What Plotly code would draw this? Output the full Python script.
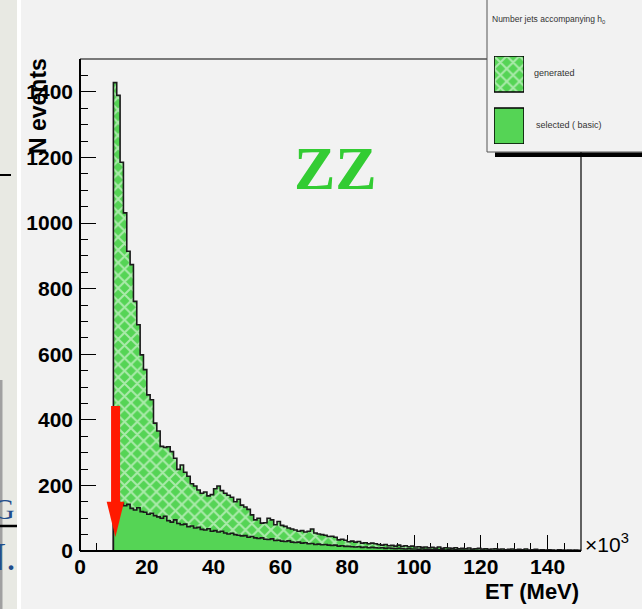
import plotly.graph_objects as go

# ---------------- data ----------------
bin_start = 10          # first bin lower edge (x10^3 MeV)
bin_width = 1
generated = [1428, 1389, 1185, 1031, 914, 873, 761, 690, 598, 553,
             476, 461, 390, 366, 319, 316, 318, 303, 283, 249,
             262, 240, 228, 205, 198, 186, 176, 180, 168, 172,
             190, 198, 184, 176, 170, 164, 150, 158, 140, 134,
             127, 110, 95, 100, 85, 86, 100, 95, 80, 90,
             78, 75, 70, 67, 64, 60, 62, 58, 60, 67,
             55, 52, 50, 48, 44, 45, 42, 34, 36, 33,
             28, 30, 27, 29, 24, 25, 22, 24, 22, 20,
             18, 20, 16, 17, 15, 18, 14, 16, 13, 15,
             12, 13, 11, 12, 10, 11, 9, 12, 8, 10,
             9, 8, 10, 7, 8, 7, 9, 6, 7, 8,
             6, 7, 5, 6, 7, 5, 6, 4, 5, 6,
             4, 5, 4, 6, 3, 4, 5, 3, 4, 3,
             4, 3, 2, 4, 3, 2, 3, 2, 3, 2]
selected = [140, 148, 146, 138, 142, 130, 125, 132, 120, 118,
            112, 115, 108, 104, 100, 106, 92, 88, 95, 84,
            80, 82, 74, 76, 70, 72, 66, 64, 68, 60,
            62, 58, 60, 55, 52, 54, 50, 48, 46, 47,
            42, 44, 40, 38, 40, 36, 35, 37, 32, 33,
            30, 29, 31, 27, 26, 27, 24, 25, 22, 23,
            20, 21, 19, 20, 18, 17, 18, 15, 16, 14,
            14, 13, 12, 13, 11, 12, 10, 11, 10, 9,
            10, 8, 9, 8, 7, 8, 7, 6, 7, 6,
            6, 5, 6, 5, 5, 4, 5, 4, 4, 3,
            4, 3, 4, 3, 3, 2, 3, 3, 2, 2,
            3, 2, 2, 1, 2, 2, 1, 2, 1, 1,
            2, 1, 1, 1, 1, 1, 0, 1, 1, 0,
            1, 1, 0, 1, 0, 1, 0, 1, 0, 0]
x_tickvals = [0, 20, 40, 60, 80, 100, 120, 140]
y_tickvals = [0, 200, 400, 600, 800, 1000, 1200, 1400]
series_names = ["generated", "selected ( basic)"]
legend_title = "Number jets accompanying h<sub>0</sub>"

# ---------------- helpers ----------------
W, H = 642, 609
def px(x):
    return x / W
def py(y):
    return 1 - y / H

def step_path(vals):
    n = len(vals)
    xs = [bin_start] + [bin_start + i * bin_width for i in range(n)] + [bin_start + n * bin_width] * 2
    ys = [0] + list(vals) + [vals[-1], 0]
    return xs, ys

GREEN = "#55d455"
BG = "#f2f2f2"
HATCH = dict(shape="x", fgcolor="white", bgcolor=GREEN, size=9, solidity=0.4)

fig = go.Figure()

gx, gy = step_path(generated)
fig.add_trace(go.Scatter(
    x=gx, y=gy, mode="lines", line=dict(shape="hv", color="#1a1a1a", width=1.6),
    fill="tozeroy", fillcolor=GREEN, fillpattern=HATCH,
    showlegend=False, hoverinfo="skip"))

sx, sy = step_path(selected)
fig.add_trace(go.Scatter(
    x=sx, y=sy, mode="lines", line=dict(shape="hv", color="#1a1a1a", width=1.6),
    fill="tozeroy", fillcolor=GREEN, showlegend=False, hoverinfo="skip"))

# legend swatches on an inset axis
fig.add_trace(go.Bar(
    x=[0.5], y=[36], base=[52], width=[1], xaxis="x2", yaxis="y2",
    marker=dict(color=GREEN, line=dict(color="black", width=1.5), pattern=HATCH),
    showlegend=False, hoverinfo="skip"))
fig.add_trace(go.Bar(
    x=[0.5], y=[36], base=[0], width=[1], xaxis="x2", yaxis="y2",
    marker=dict(color=GREEN, line=dict(color="black", width=1.5)),
    showlegend=False, hoverinfo="skip"))

tickfont = dict(family="Liberation Sans", size=21, color="black", weight="bold")

fig.update_layout(
    width=W, height=H, margin=dict(l=0, r=0, t=0, b=0, autoexpand=False),
    paper_bgcolor=BG, plot_bgcolor=BG, barmode="overlay",
    xaxis=dict(domain=[px(80), px(581)], range=[0, 150], tickvals=x_tickvals,
               ticks="inside", ticklen=16, tickwidth=1, tickcolor="black",
               minor=dict(dtick=5, ticks="inside", ticklen=8, tickcolor="black"),
               showgrid=False, zeroline=False, showline=False, tickfont=tickfont,
               layer="below traces", ticklabelstandoff=1, automargin=False),
    yaxis=dict(domain=[py(551), py(59)], range=[0, 1500], tickvals=y_tickvals,
               ticks="inside", ticklen=16, tickwidth=1, tickcolor="black",
               minor=dict(dtick=50, ticks="inside", ticklen=8, tickcolor="black"),
               showgrid=False, zeroline=False, showline=False, tickfont=tickfont,
               layer="below traces", ticklabelstandoff=6, automargin=False),
    xaxis2=dict(domain=[px(494), px(524)], range=[0, 1], visible=False, anchor="y2", automargin=False),
    yaxis2=dict(domain=[py(144), py(56)], range=[0, 88], visible=False, anchor="x2", automargin=False),
)

def pline(x0, y0, x1, y1, color="black", width=1.2):
    return dict(type="line", xref="paper", yref="paper", x0=px(x0), x1=px(x1), y0=py(y0), y1=py(y1),
                line=dict(color=color, width=width), layer="above")

shapes = []
# left slide artifacts
shapes.append(dict(type="rect", xref="paper", yref="paper", x0=0, x1=px(17), y0=0, y1=1,
                   fillcolor="#e8e9e3", line_width=0, layer="below"))
shapes.append(dict(type="rect", xref="paper", yref="paper", x0=px(17), x1=px(21), y0=0, y1=1,
                   fillcolor="#ffffff", line_width=0, layer="below"))
shapes.append(dict(type="rect", xref="paper", yref="paper", x0=0, x1=px(2.5), y0=0, y1=py(380),
                   fillcolor="#a0a0a0", line_width=0, layer="below"))
shapes.append(pline(0, 175, 11, 175, width=2))
shapes.append(pline(0, 526, 17, 526, width=2.5))
# plot frame (parts not hidden by the legend box)
shapes.append(pline(80, 59, 487, 59, width=1.2))
shapes.append(pline(581, 152, 581, 551, width=1.2))
shapes.append(pline(80, 551, 581, 551, width=2))
shapes.append(pline(80, 551, 80, 59, width=2))
# red arrow (annotation)
shapes.append(dict(type="rect", xref="x", yref="y", x0=9.3, x1=12.0, y0=146, y1=442,
                   fillcolor="#ff1a00", line_width=0, layer="above"))
shapes.append(dict(type="path", xref="x", yref="y", path="M 8.0,150 L 13.2,150 L 10.6,43 Z",
                   fillcolor="#ff1a00", line_width=0, layer="above"))
# legend box border with shadow
shapes.append(pline(487, 0, 487, 152, color="#555555", width=1))
shapes.append(pline(487, 152, 642, 152, color="#555555", width=1))
shapes.append(dict(type="rect", xref="paper", yref="paper", x0=px(495), x1=px(660), y0=py(157), y1=py(152.5),
                   fillcolor="black", line_width=0, layer="above"))
fig.update_layout(shapes=shapes)

ann = []
ann.append(dict(text="N events", xref="paper", yref="paper", x=px(38), y=py(56), xanchor="center",
                yanchor="top", textangle=-90, showarrow=False,
                font=dict(family="Liberation Sans", size=23, color="black", weight="bold")))
ann.append(dict(text="ET (MeV)", xref="paper", yref="paper", x=px(581), y=py(591), xanchor="right",
                yanchor="middle", showarrow=False,
                font=dict(family="Liberation Sans", size=22, color="black", weight="bold")))
ann.append(dict(text="×10<sup>3</sup>", xref="paper", yref="paper", x=px(583), y=py(543), xanchor="left",
                yanchor="middle", showarrow=False,
                font=dict(family="Liberation Sans", size=21, color="black")))
ann.append(dict(text="ZZ", xref="paper", yref="paper", x=px(336), y=py(168), xanchor="center",
                yanchor="middle", showarrow=False,
                font=dict(family="Liberation Serif", size=62, color="#33cc33", weight="bold")))
ann.append(dict(text=legend_title, xref="paper", yref="paper", x=px(490), y=py(20), xanchor="left",
                yanchor="middle", showarrow=False,
                font=dict(family="Liberation Sans", size=8.5, color="#333333")))
ann.append(dict(text=series_names[0], xref="paper", yref="paper", x=px(532), y=py(73), xanchor="left",
                yanchor="middle", showarrow=False,
                font=dict(family="Liberation Sans", size=9, color="#333333")))
ann.append(dict(text=series_names[1], xref="paper", yref="paper", x=px(534), y=py(125), xanchor="left",
                yanchor="middle", showarrow=False,
                font=dict(family="Liberation Sans", size=9, color="#333333")))
ann.append(dict(text="G", xref="paper", yref="paper", x=px(17), y=py(508), xanchor="right",
                yanchor="middle", showarrow=False,
                font=dict(family="Liberation Serif", size=30, color="#1f4e8c")))
ann.append(dict(text="N.", xref="paper", yref="paper", x=px(18), y=py(556), xanchor="right",
                yanchor="middle", showarrow=False,
                font=dict(family="Liberation Serif", size=40, color="#1f4e8c")))
fig.update_layout(annotations=ann)

fig.write_html("out.html")
